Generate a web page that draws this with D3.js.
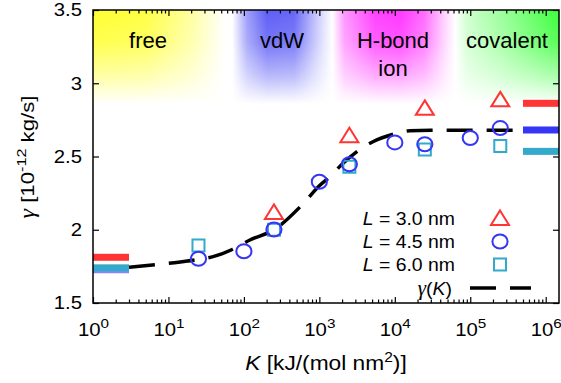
<!DOCTYPE html>
<html><head><meta charset="utf-8">
<script src="https://cdn.jsdelivr.net/npm/d3@7"></script>
<style>
body{margin:0;background:#fff}
svg{display:block}
text{font-family:"Liberation Sans",Arial,Helvetica,sans-serif;fill:#000}
.greek{font-family:"Liberation Serif","DejaVu Serif",serif;font-style:italic}
</style>
</head><body>
<svg id="c" width="561" height="383"></svg>
<script>
// ---- data ----
const kL30 = [250, 2500, 25000, 250000];
const gL30 = [2.122, 2.645, 2.832, 2.89];
const kL45 = [25, 100, 250, 1000, 2500, 10000, 25000, 100000, 250000];
const gL45 = [1.802, 1.853, 2.002, 2.328, 2.447, 2.596, 2.584, 2.626, 2.694];
const kL60 = [25, 250, 2500, 25000, 250000];
const gL60 = [1.892, 2.0, 2.43, 2.548, 2.572];
const fitK = [3, 7, 12, 25, 40, 70, 120, 250, 600, 1000, 1380, 1950, 3470, 5130, 10500, 15800, 30000, 420000];
const fitG = [1.744, 1.762, 1.775, 1.798, 1.818, 1.865, 1.93, 2.0, 2.174, 2.30, 2.362, 2.442, 2.549, 2.601, 2.658, 2.676, 2.68, 2.68];
const leftBarK = [1, 3];
const leftBarG = [1.812, 1.727, 1.740];      // L=3.0, L=4.5, L=6.0
const rightBarK = [5e5, 1.5e6];
const rightBarG = [2.863, 2.681, 2.535];     // L=3.0, L=4.5, L=6.0
const seriesNames = ["3.0", "4.5", "6.0"];
const xTickExp = [0, 1, 2, 3, 4, 5, 6];
const yTicks = [1.5, 2, 2.5, 3, 3.5];
const bandLines = [["free"], ["vdW"], ["H-bond", "ion"], ["covalent"]];
const bandLo = [1, 70, 1480, 63000];
const bandHi = [56, 1480, 63000, 1.5e6];

// ---- style ----
const colRed = "#ff3535", colBlue = "#3535f5", colCyan = "#33a9cc";
const seriesCol = [colRed, colBlue, colCyan];
const bandColors = ["#ffff30", "#4c4cf5", "#ff2cff", "#3cff3c"];
const bandStops = [
  [[0, 1], [0.4, 0.9], [0.75, 0.45], [1, 0]],
  [[0, 0], [0.15, 0.55], [0.35, 0.9], [0.62, 0.85], [0.85, 0.3], [1, 0]],
  [[0, 0], [0.1, 0.5], [0.35, 0.9], [0.55, 0.95], [0.75, 0.7], [0.92, 0.2], [1, 0]],
  [[0, 0], [0.12, 0.25], [0.5, 0.55], [1, 1]]
];
const SX = 1.13; // horizontal text stretch of the reference

const L = 93, R = 559, T = 10, B = 303;
const x = d3.scaleLog().domain([1, 1.5e6]).range([L, R]);
const y = d3.scaleLinear().domain([1.5, 3.5]).range([B, T]);
const svg = d3.select("#c");
const defs = svg.append("defs");

function label(px, py, size, anchor, sx) {
  return svg.append("text").attr("transform", `translate(${px},${py}) scale(${sx},1)`)
    .attr("text-anchor", anchor).attr("font-size", size);
}

// vertical fade mask
const vg = defs.append("linearGradient").attr("id", "vfade")
  .attr("gradientUnits", "userSpaceOnUse").attr("x1", 0).attr("x2", 0).attr("y1", T).attr("y2", 104);
[[0, "#fff"], [0.35, "#d8d8d8"], [0.7, "#707070"], [1, "#000"]].forEach(s =>
  vg.append("stop").attr("offset", s[0]).attr("stop-color", s[1]));
defs.append("mask").attr("id", "vmask").attr("maskUnits", "userSpaceOnUse")
  .attr("x", 0).attr("y", 0).attr("width", 561).attr("height", 383)
  .append("rect").attr("x", 0).attr("y", 0).attr("width", 561).attr("height", 383).attr("fill", "url(#vfade)");

const bandG = svg.append("g").attr("mask", "url(#vmask)");
bandLines.forEach((_, i) => {
  const x0 = x(bandLo[i]), x1 = x(bandHi[i]);
  const g = defs.append("linearGradient").attr("id", "band" + i)
    .attr("gradientUnits", "userSpaceOnUse").attr("x1", x0).attr("x2", x1).attr("y1", 0).attr("y2", 0);
  bandStops[i].forEach(s => g.append("stop").attr("offset", s[0])
    .attr("stop-color", bandColors[i]).attr("stop-opacity", s[1]));
  bandG.append("rect").attr("x", x0).attr("y", T).attr("width", x1 - x0).attr("height", 100)
    .attr("fill", `url(#band${i})`);
});

// band labels
const bandLabelX = [148, 282, 393, 507];
bandLines.forEach((lines, i) => {
  lines.forEach((t, j) => {
    label(bandLabelX[i], 48 + j * 28, 22, "middle", 1.0).text(t);
  });
});

// axes (ticks inward)
const majors = xTickExp.map(e => Math.pow(10, e));
const minors = [];
xTickExp.forEach(e => { for (let m = 2; m <= 9; m++) { const v = m * Math.pow(10, e); if (v < 1.5e6) minors.push(v); } });

const axB = svg.append("g").attr("transform", `translate(0,${B})`)
  .call(d3.axisBottom(x).tickValues(majors).tickSize(-6).tickFormat(""));
const axBm = svg.append("g").attr("transform", `translate(0,${B})`)
  .call(d3.axisBottom(x).tickValues(minors).tickSize(-3.5).tickFormat(""));
const axT = svg.append("g").attr("transform", `translate(0,${T})`)
  .call(d3.axisTop(x).tickValues(majors).tickSize(-6).tickFormat(""));
const axTm = svg.append("g").attr("transform", `translate(0,${T})`)
  .call(d3.axisTop(x).tickValues(minors).tickSize(-3.5).tickFormat(""));
const axL = svg.append("g").attr("transform", `translate(${L},0)`)
  .call(d3.axisLeft(y).tickValues(yTicks).tickSize(-6).tickPadding(11).tickFormat(d => d3.format("")(d)));
const axR = svg.append("g").attr("transform", `translate(${R},0)`)
  .call(d3.axisRight(y).tickValues(yTicks).tickSize(-6).tickFormat(""));
[axB, axBm, axT, axTm, axL, axR].forEach(a => {
  a.select(".domain").remove();
  a.selectAll(".tick line").attr("stroke", "#000").attr("stroke-width", 1.2);
});
axL.selectAll("text").attr("font-size", 18).attr("font-family", null).attr("fill", "#000")
  .attr("x", -11 / SX).attr("transform", `scale(${SX},1)`);

// x tick labels with superscripts
axB.selectAll(".tick").each(function (d) {
  const t = d3.select(this).append("text").attr("y", 33).attr("text-anchor", "middle")
    .attr("fill", "#000").attr("transform", `scale(${SX},1)`);
  t.append("tspan").attr("font-size", 18).text("10");
  t.append("tspan").attr("font-size", 13.5).attr("dy", -8).text(Math.round(Math.log10(d)));
});

// horizontal reference bars
const barH = 7;
[0, 1, 2].forEach(i => {
  svg.append("rect").attr("x", x(leftBarK[0])).attr("width", x(leftBarK[1]) - x(leftBarK[0]))
    .attr("y", y(leftBarG[i]) - barH / 2).attr("height", barH).attr("fill", seriesCol[i])
    .attr("opacity", i === 1 ? 0.6 : 1);
  svg.append("rect").attr("x", x(rightBarK[0])).attr("width", x(rightBarK[1]) - x(rightBarK[0]))
    .attr("y", y(rightBarG[i]) - barH / 2).attr("height", barH).attr("fill", seriesCol[i]);
});

// fit curve
const line = d3.line().x((d, i) => x(fitK[i])).y((d, i) => y(fitG[i])).curve(d3.curveMonotoneX);
svg.append("path").attr("d", line(fitK)).attr("fill", "none").attr("stroke", "#000")
  .attr("stroke-width", 3.5).attr("stroke-dasharray", "26,14");

// markers
const tri = (cx, cy) => `M${cx},${cy - 7.5}L${cx + 9},${cy + 7}L${cx - 9},${cy + 7}Z`;
const sq = (cx, cy) => `M${cx - 6},${cy - 6}h12v12h-12Z`;
const drawTri = (cx, cy) => svg.append("path").attr("d", tri(cx, cy)).attr("fill", "none").attr("stroke", colRed).attr("stroke-width", 2);
const drawCirc = (cx, cy) => svg.append("ellipse").attr("cx", cx).attr("cy", cy).attr("rx", 7.6).attr("ry", 7).attr("fill", "none").attr("stroke", colBlue).attr("stroke-width", 2);
const drawSq = (cx, cy) => svg.append("path").attr("d", sq(cx, cy)).attr("fill", "none").attr("stroke", colCyan).attr("stroke-width", 2);

kL60.forEach((k, i) => drawSq(x(k), y(gL60[i])));
kL45.forEach((k, i) => drawCirc(x(k), y(gL45[i])));
kL30.forEach((k, i) => drawTri(x(k), y(gL30[i])));

// legend
const legX = 455, legM = 500, legY = [218, 241.5, 264.5, 288];
const drawers = [drawTri, drawCirc, drawSq];
seriesNames.forEach((s, i) => {
  const t = label(legX, legY[i] + 6.5, 18.5, "end", 1.05);
  t.append("tspan").attr("font-style", "italic").text("L");
  t.append("tspan").text(` = ${s} nm`);
  drawers[i](legM, legY[i]);
});
const tg = label(legX - 3, legY[3] + 6.5, 18.5, "end", 1.05);
tg.append("tspan").attr("class", "greek").attr("font-size", 20).text("γ");
tg.append("tspan").text("(");
tg.append("tspan").attr("font-style", "italic").text("K");
tg.append("tspan").text(")");
svg.append("line").attr("x1", 470).attr("x2", 531).attr("y1", legY[3]).attr("y2", legY[3])
  .attr("stroke", "#000").attr("stroke-width", 3.5).attr("stroke-dasharray", "26,14");

// frame
svg.append("rect").attr("x", L).attr("y", T).attr("width", R - L).attr("height", B - T)
  .attr("fill", "none").attr("stroke", "#000").attr("stroke-width", 1.5);

// axis titles
const xt = label((L + R) / 2, 370, 20.5, "middle", 1.11);
xt.append("tspan").attr("font-style", "italic").text("K");
xt.append("tspan").text(" [kJ/(mol nm");
xt.append("tspan").attr("font-size", 14).attr("dy", -8).text("2");
xt.append("tspan").attr("dy", 8).text(")]");

const yt = svg.append("text").attr("transform", `translate(34,157) rotate(-90) scale(1.2,1)`)
  .attr("text-anchor", "middle").attr("font-size", 18.5);
yt.append("tspan").attr("class", "greek").attr("font-size", 20).text("γ");
yt.append("tspan").text(" [10");
yt.append("tspan").attr("font-size", 13.5).attr("dy", -8).text("-12");
yt.append("tspan").attr("dy", 8).text(" kg/s]");
</script>
</body></html>
